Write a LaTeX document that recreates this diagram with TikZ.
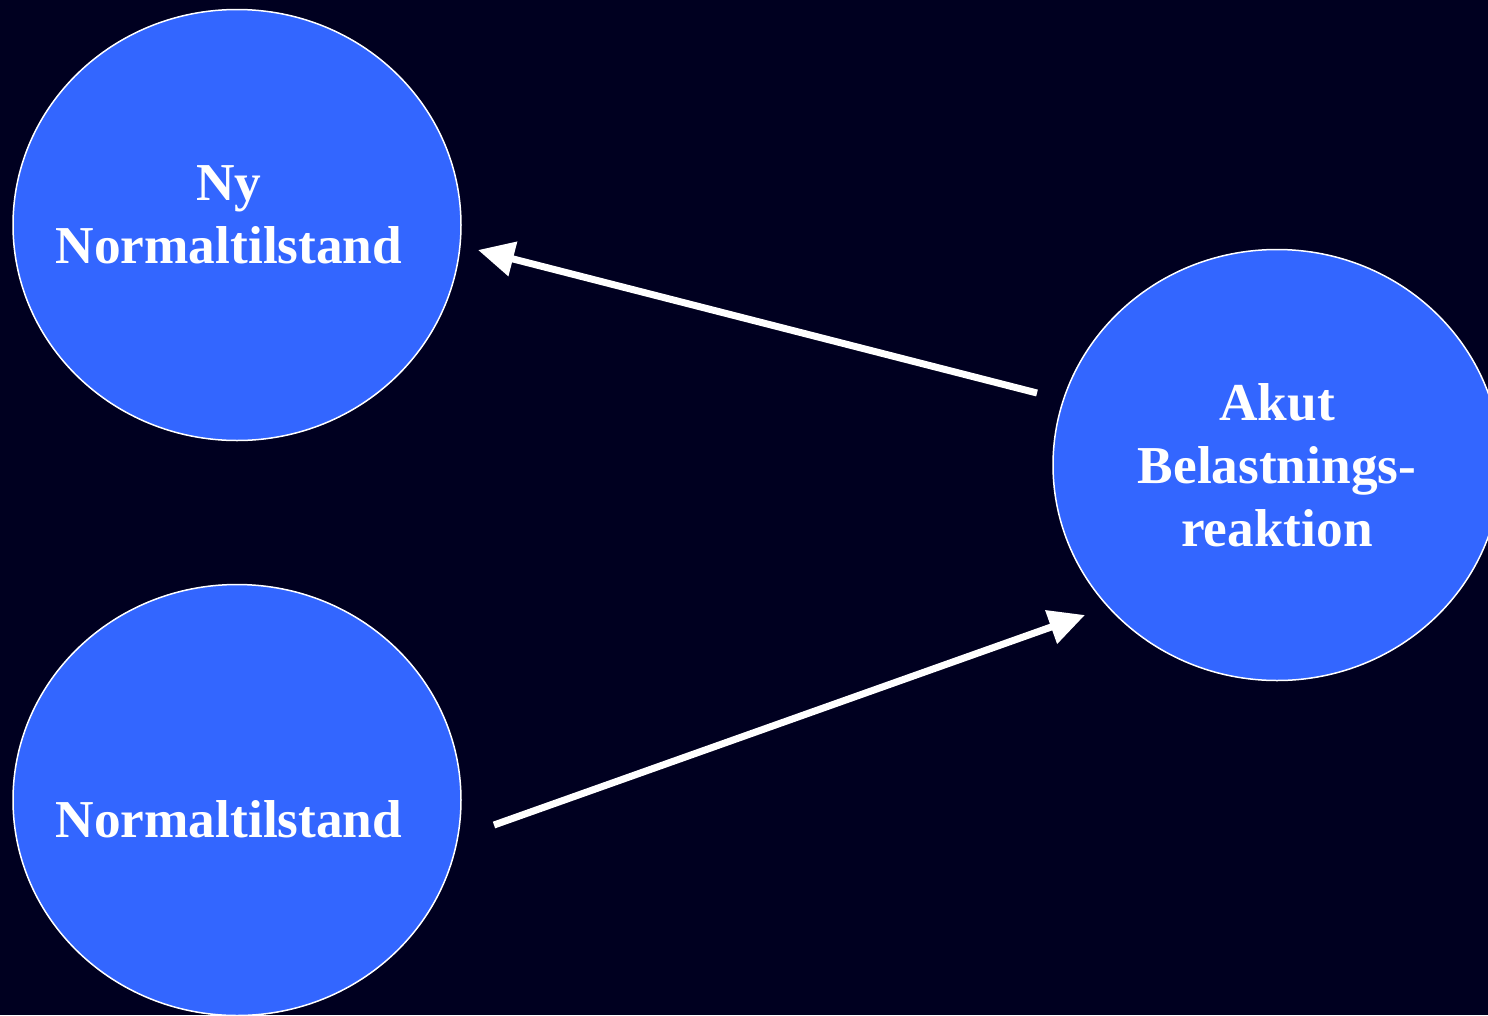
\documentclass[tikz,border=0pt]{standalone}
\usepackage{fontspec}
\setmainfont{Liberation Serif}
\usetikzlibrary{arrows.meta,shapes.geometric}
\definecolor{bg}{HTML}{000020}
\definecolor{blob}{HTML}{3366FF}
\begin{document}
\begin{tikzpicture}[x=1pt,y=-1pt,
  blobnode/.style={ellipse,draw=white,line width=1.5pt,fill=blob,minimum width=448pt,minimum height=431pt,inner sep=0pt},
  txt/.style={text=white,font=\fontsize{53.3}{63}\selectfont\bfseries,align=center,inner sep=0pt},
  arr/.style={draw=white,line width=7pt,-{Triangle[length=36pt,width=34pt]}}]
\fill[bg] (0,0) rectangle (1488,1015);
\useasboundingbox (0,0) rectangle (1488,1015);
\node[blobnode] (c1) at (237,225) {};
\node[blobnode] (c2) at (237,800) {};
\node[blobnode] (c3) at (1277,465) {};
\node[txt,anchor=base] (t1) at (229,263) {Ny\\Normaltilstand};
\node[txt,anchor=base] (t2) at (229,837) {Normaltilstand};
\node[txt,anchor=base] (t3) at (1277,546) {Akut\\Belastnings-\\reaktion};
\coordinate (a1s) at (1037,393);
\coordinate (a1e) at (478,250);
\coordinate (a2s) at (494,825);
\coordinate (a2e) at (1085,615);
\draw[arr] (a1s) -- (a1e);
\draw[arr] (a2s) -- (a2e);
\end{tikzpicture}
\end{document}
